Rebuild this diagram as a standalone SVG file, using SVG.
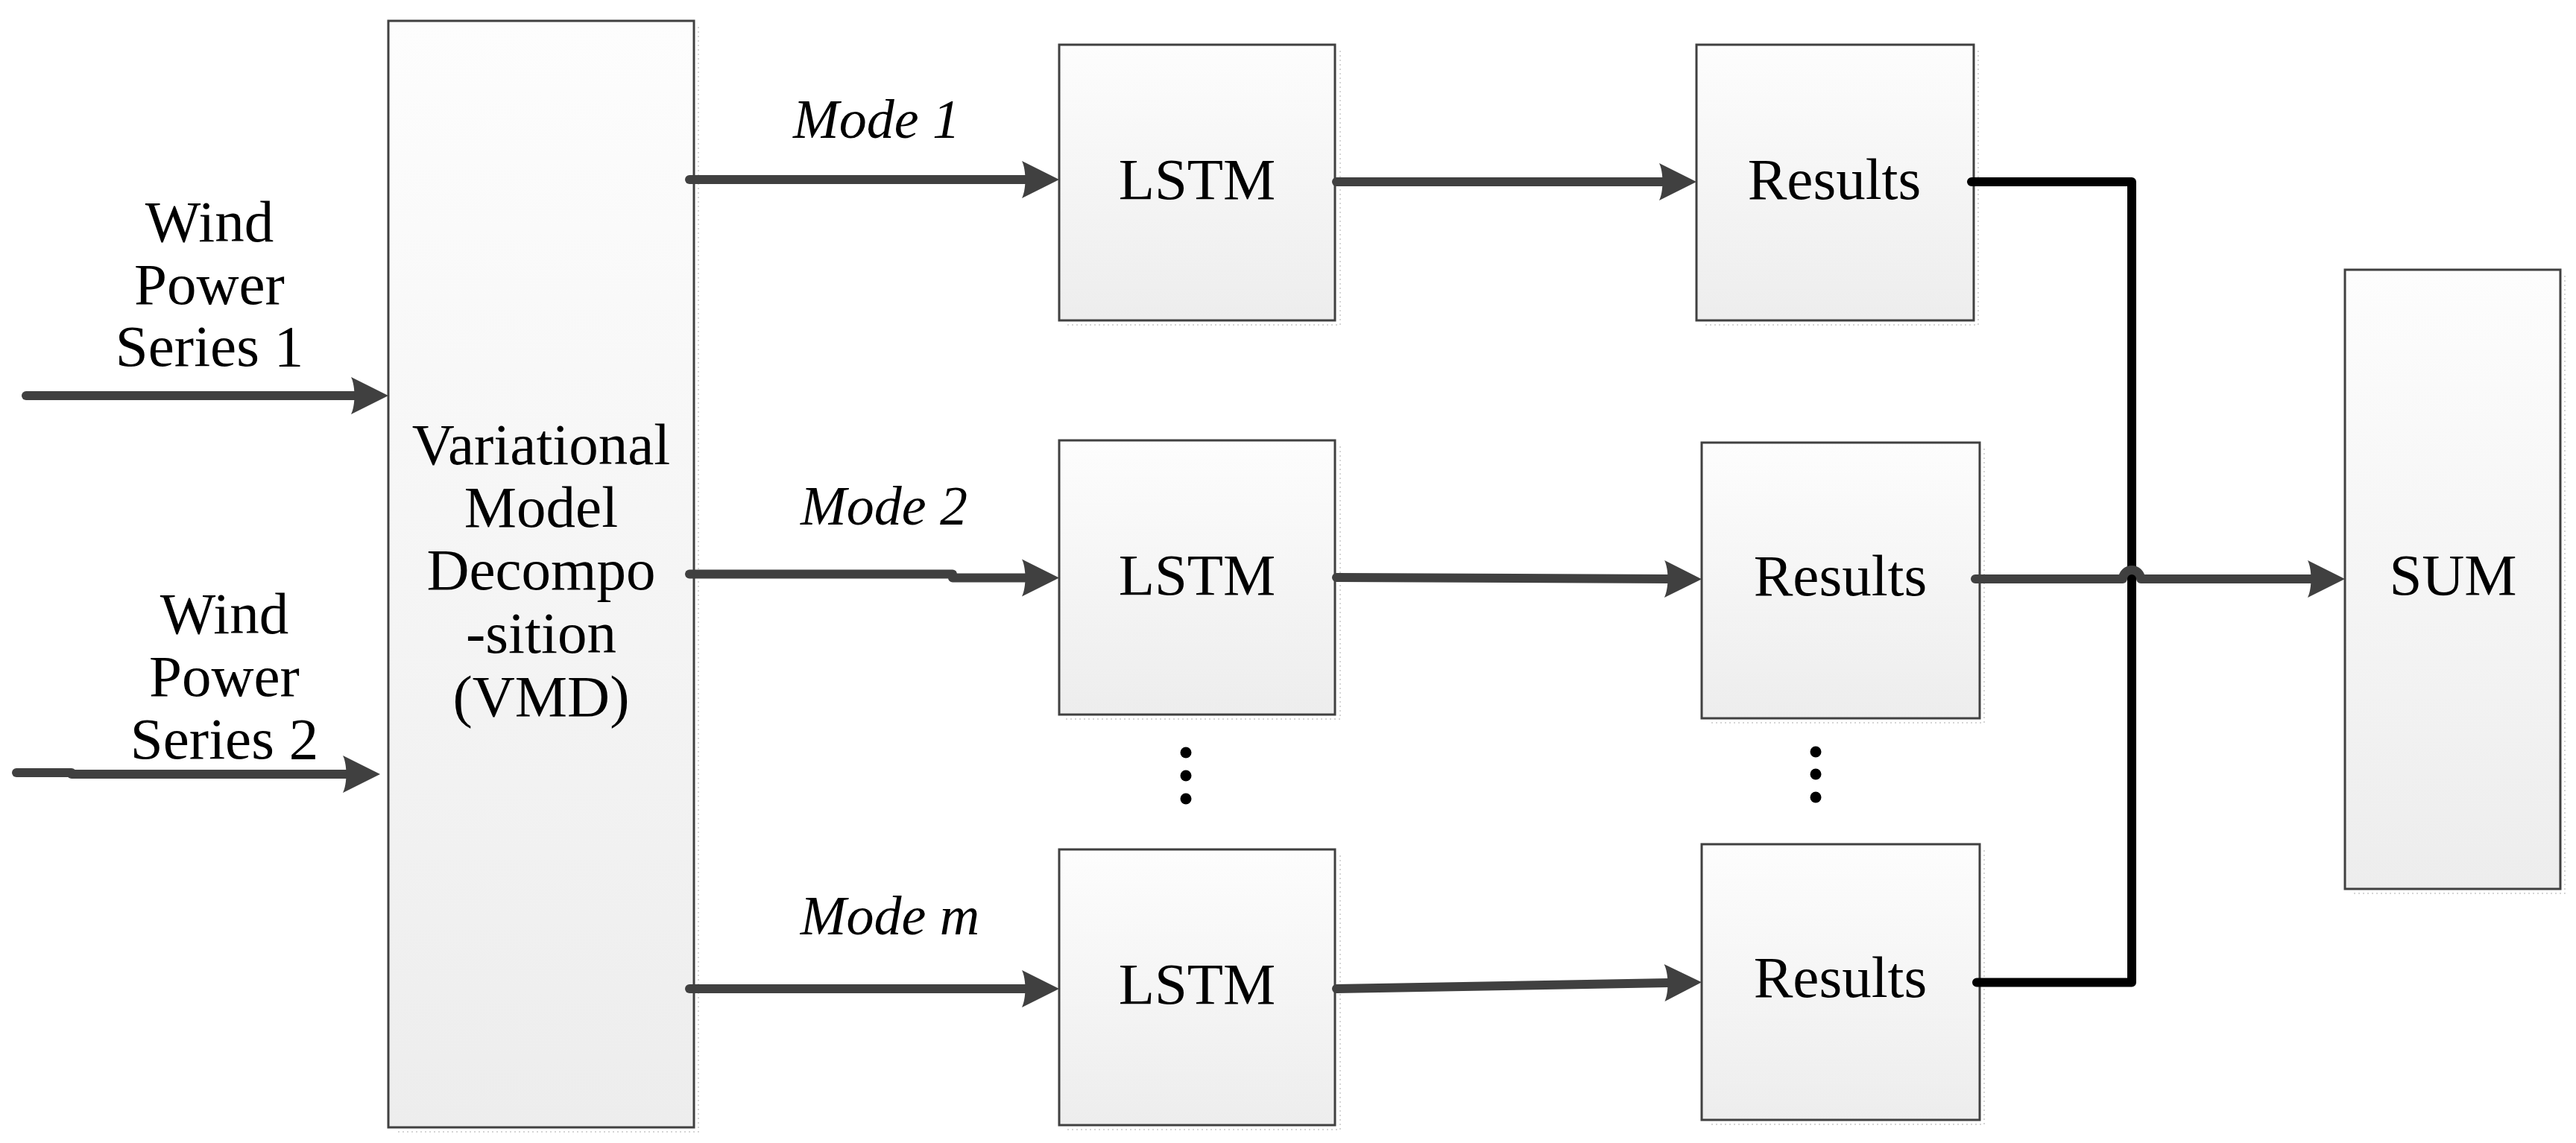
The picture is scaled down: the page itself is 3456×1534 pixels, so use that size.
<svg xmlns="http://www.w3.org/2000/svg" width="3456" height="1534" viewBox="0 0 3456 1534">
<defs>
<linearGradient id="boxfill" x1="0" y1="0" x2="0" y2="1">
<stop offset="0" stop-color="#fdfdfd"/>
<stop offset="1" stop-color="#ededed"/>
</linearGradient>
<marker id="arrow" markerUnits="userSpaceOnUse" markerWidth="80" markerHeight="80" viewBox="-20 -40 80 80" refX="0" refY="0" orient="auto" overflow="visible">
<path d="M44,0 L-6,-25 C0,-13 0,13 -6,25 Z" fill="#404040"/>
</marker>
</defs>
<style>
.box{fill:url(#boxfill);stroke:#404040;stroke-width:3}
.shadow{fill:none;stroke:#c8c8c8;stroke-width:1.5;stroke-dasharray:2 4}
.t{font-family:"Liberation Serif","Times New Roman",serif;font-size:79px;fill:#000;text-anchor:middle}
.it{font-style:italic;font-size:74px}
.conn{fill:none;stroke:#404040;stroke-width:12;stroke-linecap:round;stroke-linejoin:round}
.bus{fill:none;stroke:#000;stroke-width:12;stroke-linecap:round;stroke-linejoin:round}
.dot{fill:#000}
</style>
<rect width="3456" height="1534" fill="#fff"/>

<g id="vmd">
<path class="shadow" d="M937,36 V1519 H530"/>
<rect class="box" x="521" y="28" width="410" height="1485"/>
<text class="t" x="726" y="623">Variational</text>
<text class="t" x="726" y="707">Model</text>
<text class="t" x="726" y="791">Decompo</text>
<text class="t" x="726" y="876">-sition</text>
<text class="t" x="726" y="961">(VMD)</text>
</g>

<g id="input1">
<text class="t" x="281" y="324">Wind</text>
<text class="t" x="281" y="408">Power</text>
<text class="t" x="281" y="491">Series 1</text>
</g>
<g id="input2">
<text class="t" x="301" y="850">Wind</text>
<text class="t" x="301" y="934">Power</text>
<text class="t" x="301" y="1018">Series 2</text>
</g>

<g id="lstm1">
<path class="shadow" d="M1798,68 V436 H1430"/>
<rect class="box" x="1421" y="60" width="370" height="370"/>
<text class="t" x="1606" y="267">LSTM</text>
</g>
<g id="lstm2">
<path class="shadow" d="M1798,599 V965 H1430"/>
<rect class="box" x="1421" y="591" width="370" height="368"/>
<text class="t" x="1606" y="798">LSTM</text>
</g>
<g id="lstm3">
<path class="shadow" d="M1798,1148 V1516 H1430"/>
<rect class="box" x="1421" y="1140" width="370" height="370"/>
<text class="t" x="1606" y="1347">LSTM</text>
</g>

<g id="results1">
<path class="shadow" d="M2654,68 V436 H2285"/>
<rect class="box" x="2276" y="60" width="372" height="370"/>
<text class="t" x="2461" y="267">Results</text>
</g>
<g id="results2">
<path class="shadow" d="M2662,602 V970 H2292"/>
<rect class="box" x="2283" y="594" width="373" height="370"/>
<text class="t" x="2469" y="799">Results</text>
</g>
<g id="results3">
<path class="shadow" d="M2662,1141 V1509 H2292"/>
<rect class="box" x="2283" y="1133" width="373" height="370"/>
<text class="t" x="2469" y="1338">Results</text>
</g>

<g id="sum">
<path class="shadow" d="M3441,370 V1199 H3155"/>
<rect class="box" x="3146" y="362" width="289" height="831"/>
<text class="t" x="3291" y="798">SUM</text>
</g>

<g id="labels">
<text class="t it" x="1176" y="185">Mode 1</text>
<text class="t it" x="1186" y="704">Mode 2</text>
<text class="t it" x="1194" y="1254">Mode m</text>
</g>

<g id="ellipsis">
<circle class="dot" cx="1591" cy="1010" r="7.5"/>
<circle class="dot" cx="1591" cy="1041" r="7.5"/>
<circle class="dot" cx="1591" cy="1072" r="7.5"/>
<circle class="dot" cx="2436" cy="1009" r="7.5"/>
<circle class="dot" cx="2436" cy="1039" r="7.5"/>
<circle class="dot" cx="2436" cy="1070" r="7.5"/>
</g>

<g id="connectors">
<path class="conn" d="M35,531 H477" marker-end="url(#arrow)"/>
<path class="conn" d="M22,1037 H96"/>
<path class="conn" d="M96,1039 H466" marker-end="url(#arrow)"/>
<path class="conn" d="M925,241 H1377" marker-end="url(#arrow)"/>
<path class="conn" d="M925,770.5 H1278"/>
<path class="conn" d="M1278,775.5 H1377" marker-end="url(#arrow)"/>
<path class="conn" d="M925,1327 H1377" marker-end="url(#arrow)"/>
<path class="conn" d="M1793,244 H2232" marker-end="url(#arrow)"/>
<path class="conn" d="M1793,775 L2239,777" marker-end="url(#arrow)"/>
<path class="conn" d="M1793,1327 L2239,1319" marker-end="url(#arrow)"/>
<path class="bus" d="M2645,244 H2860 V1318.5 H2652"/>
<path class="conn" d="M2650,777 H2848 A12,12 0 0 1 2872,777 H3102" marker-end="url(#arrow)"/>
</g>
</svg>
